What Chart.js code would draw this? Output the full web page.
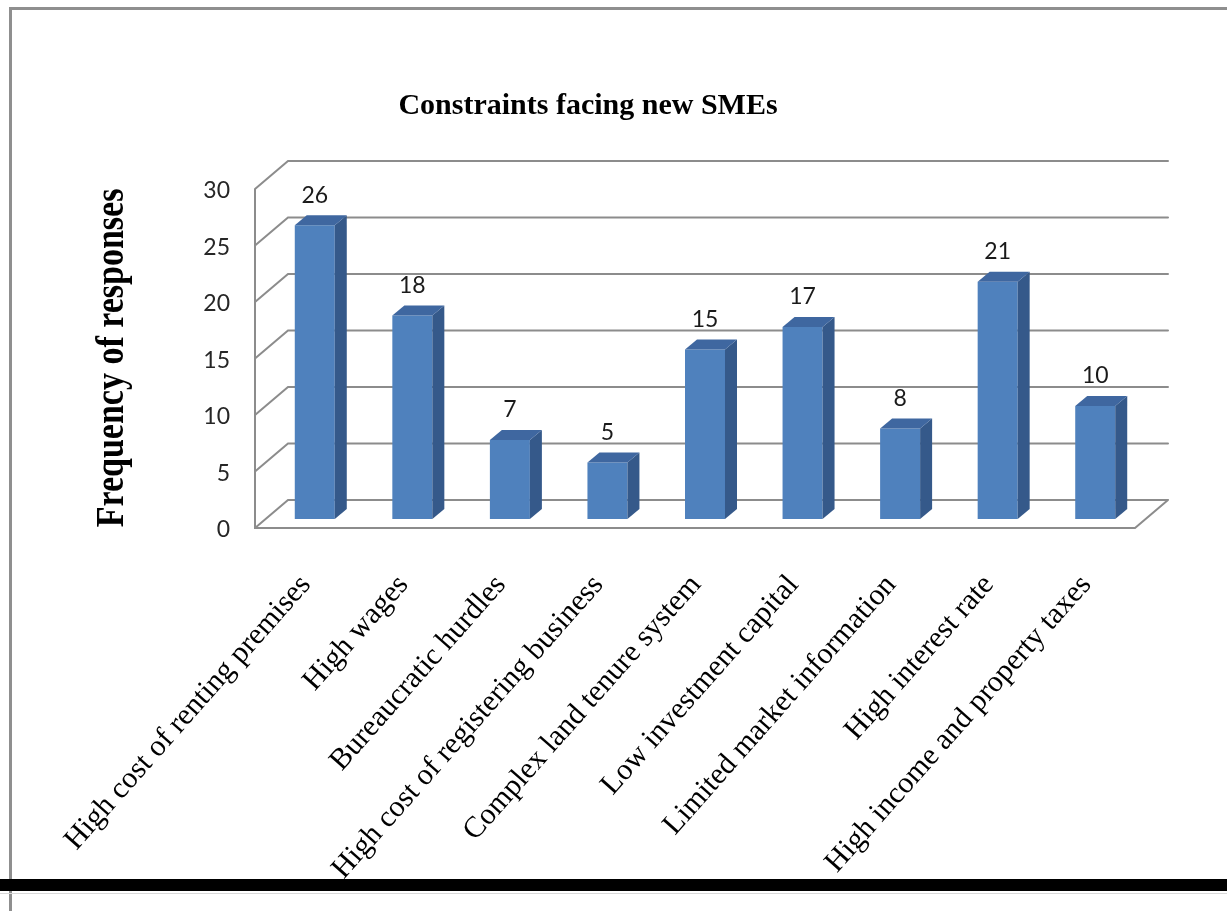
<!DOCTYPE html>
<html>
<head>
<meta charset="utf-8">
<title>Constraints facing new SMEs</title>
<script src="https://cdn.jsdelivr.net/npm/chart.js@4.4.1/dist/chart.umd.min.js"></script>
<style>
  html, body { margin: 0; padding: 0; background: #ffffff; }
  #wrap { width: 1227px; height: 911px; }
</style>
</head>
<body>
<div id="wrap"><canvas id="chart" width="1227" height="911"></canvas></div>
<script>
// Survey responses: constraints reported by new SMEs
const categories = [
  'High cost of renting premises',
  'High wages',
  'Bureaucratic hurdles',
  'High cost of registering business',
  'Complex land tenure system',
  'Low investment capital',
  'Limited market information',
  'High interest rate',
  'High income and property taxes'
];
const responses = [26, 18, 7, 5, 15, 17, 8, 21, 10];
const yTicks = [0, 5, 10, 15, 20, 25, 30];

const chartTitle = 'Constraints facing new SMEs';
const yAxisTitle = 'Frequency of responses';

// 3D look: depth of the wall box and of each bar
const WALL_DX = 33, WALL_DY = -28;
const BAR_DX = 12, BAR_DY = -10;
const GRID_COLOR = '#8c8c8c';

const box3d = {
  id: 'box3d',
  beforeDraw(chart) {
    const ctx = chart.ctx;
    ctx.save();
    ctx.fillStyle = '#ffffff';
    ctx.fillRect(0, 0, chart.width, chart.height);
    // page frame
    ctx.fillStyle = '#8f8f8f';
    ctx.fillRect(9, 7, chart.width - 9, 3);
    ctx.fillRect(9, 7, 3, chart.height - 7);
    ctx.fillStyle = '#000000';
    ctx.fillRect(0, 879, chart.width, 12);
    ctx.fillStyle = '#d8d8d8';
    ctx.fillRect(0, 893, chart.width, 1);
    ctx.restore();
  },
  beforeDatasetsDraw(chart) {
    const ctx = chart.ctx;
    const ys = chart.scales.y;
    const ca = chart.chartArea;
    const frontL = ca.left - 11;
    const frontR = ca.right - 9;
    const off = 9; // front edge sits below the bar plane
    ctx.save();
    ctx.strokeStyle = GRID_COLOR;
    ctx.lineWidth = 2;
    ctx.lineCap = 'round';
    ctx.beginPath();
    // left wall front edge
    ctx.moveTo(frontL, ys.getPixelForValue(yTicks[yTicks.length - 1]) + off);
    ctx.lineTo(frontL, ys.getPixelForValue(0) + off);
    // floor front edge and right edge
    ctx.lineTo(frontR, ys.getPixelForValue(0) + off);
    ctx.lineTo(frontR + WALL_DX, ys.getPixelForValue(0) + off + WALL_DY);
    yTicks.forEach(v => {
      const yf = ys.getPixelForValue(v) + off;
      ctx.moveTo(frontL, yf);
      ctx.lineTo(frontL + WALL_DX, yf + WALL_DY);
      ctx.lineTo(frontR + WALL_DX, yf + WALL_DY);
    });
    ctx.stroke();
    ctx.restore();
  },
  afterDatasetsDraw(chart) {
    const ctx = chart.ctx;
    const meta = chart.getDatasetMeta(0);
    ctx.save();
    meta.data.forEach((bar, i) => {
      const p = bar.getProps(['x', 'y', 'base', 'width'], true);
      const l = p.x - p.width / 2, r = p.x + p.width / 2;
      // side face
      ctx.fillStyle = '#35598a';
      ctx.beginPath();
      ctx.moveTo(r, p.y);
      ctx.lineTo(r + BAR_DX, p.y + BAR_DY);
      ctx.lineTo(r + BAR_DX, p.base + BAR_DY);
      ctx.lineTo(r, p.base);
      ctx.closePath();
      ctx.fill();
      // top face
      ctx.fillStyle = '#3f67a0';
      ctx.beginPath();
      ctx.moveTo(l, p.y);
      ctx.lineTo(l + BAR_DX, p.y + BAR_DY);
      ctx.lineTo(r + BAR_DX, p.y + BAR_DY);
      ctx.lineTo(r, p.y);
      ctx.closePath();
      ctx.fill();
      // value label
      ctx.fillStyle = '#1a1a1a';
      ctx.font = '23px Lato, "Open Sans", sans-serif';
      ctx.textAlign = 'center';
      ctx.textBaseline = 'middle';
      ctx.fillText(String(responses[i]), p.x, p.y - 30);
    });
    ctx.restore();
  },
  afterDraw(chart) {
    const ctx = chart.ctx;
    ctx.save();
    ctx.fillStyle = '#000000';
    // chart title
    ctx.font = 'bold 30px "Liberation Serif", "Times New Roman", serif';
    ctx.textAlign = 'center';
    ctx.textBaseline = 'alphabetic';
    ctx.fillText(chartTitle, 588, 114);
    // y axis title
    ctx.translate(112, 358);
    ctx.rotate(-Math.PI / 2);
    ctx.scale(1, 1.2);
    ctx.font = 'bold 34px "Liberation Serif", "Times New Roman", serif';
    ctx.textBaseline = 'middle';
    ctx.fillText(yAxisTitle, 0, 0);
    ctx.restore();
  }
};

new Chart(document.getElementById('chart'), {
  type: 'bar',
  data: {
    labels: categories,
    datasets: [{
      data: responses,
      backgroundColor: '#4f81bd',
      borderWidth: 0,
      barPercentage: 0.41,
      categoryPercentage: 1.0
    }]
  },
  options: {
    responsive: false,
    animation: false,
    layout: { padding: { left: 100, top: 180, right: 83, bottom: 12 } },
    plugins: {
      legend: { display: false },
      tooltip: { enabled: false },
      title: { display: false }
    },
    scales: {
      x: {
        grid: { display: false, drawTicks: false },
        border: { display: false },
        ticks: {
          autoSkip: false,
          minRotation: 48.5,
          maxRotation: 48.5,
          padding: 49,
          labelOffset: -9,
          color: '#000000',
          font: { family: '"Liberation Serif", "Times New Roman", serif', size: 30 }
        },
        afterFit(scale) { scale.height = 380; }
      },
      y: {
        min: 0,
        max: 30,
        grid: { display: false, drawTicks: false },
        border: { display: false },
        ticks: {
          stepSize: 5,
          padding: 36,
          labelOffset: 11,
          color: '#262626',
          font: { family: 'Lato, "Open Sans", sans-serif', size: 23 }
        },
        afterFit(scale) { scale.width = 166; }
      }
    }
  },
  plugins: [box3d]
});
</script>
</body>
</html>
